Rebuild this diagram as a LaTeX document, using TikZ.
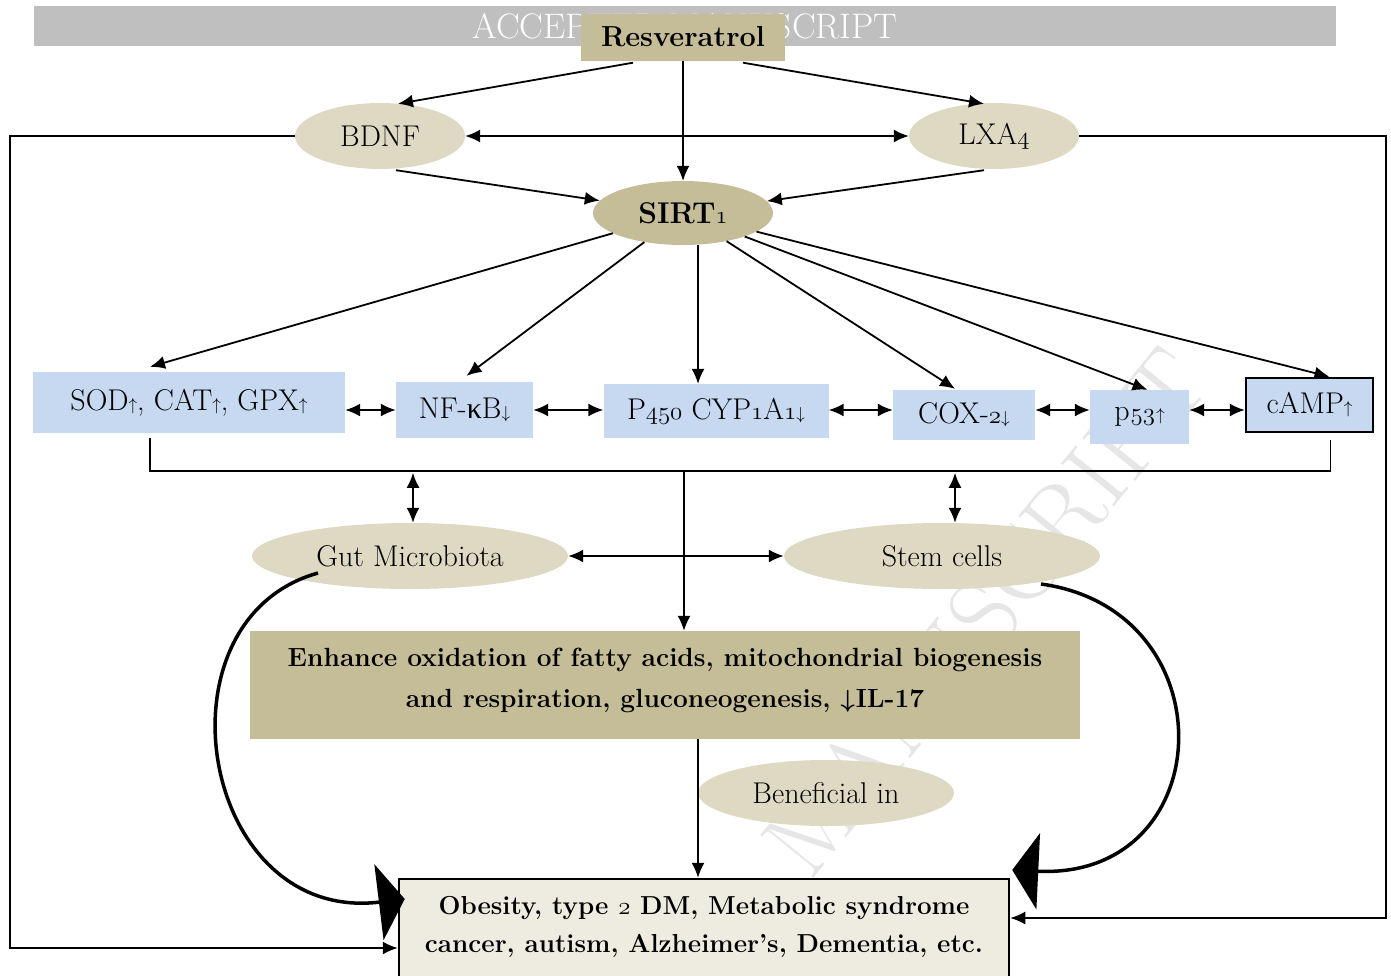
\documentclass[tikz,border=0pt]{standalone}
\usepackage{fontspec}
\usepackage{amsmath}
\usetikzlibrary{shapes.geometric,arrows.meta,calc}
\definecolor{blu}{HTML}{C6D9F1}
\definecolor{beig}{HTML}{DDD9C3}
\definecolor{khak}{HTML}{C4BD97}
\definecolor{pale}{HTML}{EEECE1}
\definecolor{barg}{HTML}{BFBFBF}
\definecolor{wmk}{HTML}{E6E6E6}
\newfontfamily\grk{Liberation Serif}
\newcommand\osn[1]{{\fontencoding{OML}\fontfamily{lmm}\fontshape{it}\selectfont #1}}
\newcommand\upa{{\fontsize{19}{19}\selectfont$\uparrow$}}
\newcommand\dna{{\fontsize{19}{19}\selectfont$\downarrow$}}
\tikzset{
  lbl/.style={font=\fontsize{30}{35}\selectfont, inner sep=0pt},
  bluebox/.style={lbl, rectangle, fill=blu},
  oval/.style={lbl, ellipse, fill=beig},
  arr/.style={-{Latex[length=15pt,width=13pt]}, line width=1.8pt},
  darr/.style={{Latex[length=15pt,width=13pt]}-{Latex[length=15pt,width=13pt]}, line width=1.8pt},
  bigarr/.style={-{Triangle[length=26pt,width=76pt]}, line width=3.5pt},
}
\begin{document}
\begin{tikzpicture}[x=1pt,y=-1pt]
\useasboundingbox (0,0) rectangle (1391,975);
% watermark
\node[rotate=51, text=wmk, font=\fontsize{100}{100}\selectfont, inner sep=0pt] (wm) at (985,612) {MANUSCRIPT};
% top bar
\node[rectangle, fill=barg, minimum width=1302, minimum height=40, inner sep=0pt,
      text=white, font=\fontsize{35.5}{36}\selectfont] (bar) at (685,26) {ACCEPTED MANUSCRIPT};
% nodes
\node[lbl, rectangle, fill=khak, minimum width=204, minimum height=47, font=\bfseries\fontsize{29}{34}\selectfont] (res) at (683,37) {Resveratrol};
\node[oval, minimum width=170, minimum height=66] (bdnf) at (380,136) {BDNF};
\node[oval, minimum width=170, minimum height=66] (lxa4) at (994,136) {LXA\osn{4}};
\node[oval, fill=khak, minimum width=180, minimum height=64, font=\bfseries\fontsize{30}{35}\selectfont] (sirt) at (683,213) {SIRT\osn{1}};
\node[bluebox, minimum width=312, minimum height=61] (sod) at (189,402.5) {SOD\upa, CAT\upa, GPX\upa};
\node[bluebox, minimum width=137, minimum height=56] (nfkb) at (464.5,410) {NF-{\grk κ}B\dna};
\node[bluebox, minimum width=225, minimum height=54] (p450) at (716,411) {P\osn{450} CYP\osn{1}A\osn{1}\dna};
\node[bluebox, minimum width=142, minimum height=50] (cox) at (964,415) {COX-\osn{2}\dna};
\node[bluebox, minimum width=99, minimum height=54] (p53) at (1139.5,417) {p\kern1pt\osn{53}\kern1pt\upa};
\node[bluebox, draw=black, line width=2.5pt, minimum width=127, minimum height=54] (camp) at (1309.5,405) {cAMP\upa};
\node[oval, minimum width=316, minimum height=66] (gut) at (410,556) {Gut Microbiota};
\node[oval, minimum width=316, minimum height=66] (stem) at (942,556) {Stem cells};
\node[rectangle, fill=khak, minimum width=830, minimum height=108, inner sep=0pt] (enh) at (665,685) {};
\node[font=\bfseries\fontsize{26.3}{41}\selectfont, align=center, inner sep=0pt] (enht) at (665,680)
  {Enhance oxidation of fatty acids, mitochondrial biogenesis\\and respiration, gluconeogenesis, {\boldmath$\downarrow$}\kern1ptIL-17};
\node[oval, minimum width=256, minimum height=66] (ben) at (826,793) {Beneficial in};
\node[rectangle, fill=pale, draw=black, line width=2.5pt, minimum width=610, minimum height=106, inner sep=0pt] (obes) at (704,932) {};
\node[font=\bfseries\fontsize{26}{38}\selectfont, align=center, inner sep=0pt] (obest) at (704,927)
  {Obesity, type \osn{2} DM, Metabolic syndrome\\cancer, autism, Alzheimer’s, Dementia, etc.};
% helper coordinates
\coordinate (hy) at (0,410);
\coordinate (busC) at (684,471);
\coordinate (lx) at (10,0);
\coordinate (rx) at (1386,0);
% top arrows
\draw[arr] ($(res.south)+(-50,2)$) -- ($(bdnf.north)+(18,1)$);
\draw[arr] ($(res.south)+(60,2)$) -- ($(lxa4.north)+(-10,1)$);
\draw[arr, line width=1.4pt] (res.south) -- (sirt.north);
\draw[darr] (bdnf.east) -- (lxa4.west);
\draw[arr] ($(bdnf.south)+(16,1)$) -- (sirt);
\draw[arr] ($(lxa4.south)+(-10,1)$) -- (sirt);
% spokes
\draw[arr] (sirt) -- ($(sod.north)+(-39,-5)$);
\draw[arr] (sirt) -- ($(nfkb.north)+(2,-6)$);
\draw[arr, line width=1.4pt] ($(sirt.south)+(15,0)$) -- ($(p450.north)+(-18,0)$);
\draw[arr] (sirt) -- ($(cox.north)+(-9,-1)$);
\draw[arr] (sirt) -- ($(p53.north)+(8,0)$);
\draw[arr] (sirt) -- ($(camp.north)+(20,0)$);
% horizontal double arrows
\draw[darr] (sod.east |- hy) -- (nfkb.west |- hy);
\draw[darr] (nfkb.east |- hy) -- (p450.west |- hy);
\draw[darr] (p450.east |- hy) -- (cox.west |- hy);
\draw[darr] (cox.east |- hy) -- (p53.west |- hy);
\draw[darr] (p53.east |- hy) -- (camp.west |- hy);
% bus
\draw[line width=1.8pt] ($(sod.south)+(-39,5)$) |- ($(camp.south)+(21,38)$) -- ($(camp.south)+(21,7)$);
\draw[arr, line width=1.6pt] (busC) -- (enh.north -| busC);
\draw[darr] ($(gut.north)+(3,-50)$) -- ($(gut.north)+(3,0)$);
\draw[darr] ($(stem.north)+(13,-50)$) -- ($(stem.north)+(13,0)$);
\draw[darr] (gut.east) -- (stem.west);
% to outcome
\draw[arr, line width=1.4pt] ($(enh.south)+(33,0)$) -- ($(obes.north)+(-6,0)$);
\draw[arr] (bdnf.west) -- (bdnf.west -| lx) |- ($(obes.west)+(0,16)$);
\draw[arr] (lxa4.east) -- (lxa4.east -| rx) |- ($(obes.east)+(0,-14)$);
% curved arrows
\draw[bigarr] ($(gut.center)+(-92,17)$) .. controls +(-168,47) and +(-205,25) .. ($(obes.west)+(7,-33)$);
\draw[bigarr] ($(stem.center)+(99,28)$) .. controls +(189,26) and +(208,10) .. ($(obes.east)+(2,-62)$);
\end{tikzpicture}
\end{document}
